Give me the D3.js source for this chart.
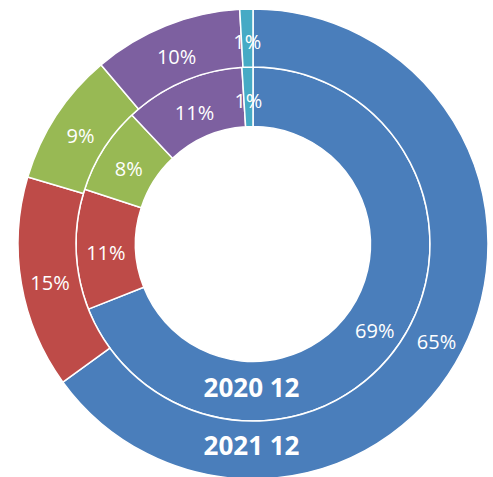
<!DOCTYPE html>
<html>
<head>
<meta charset="utf-8">
<script src="https://cdn.jsdelivr.net/npm/d3@7/dist/d3.min.js"></script>
<style>
  html, body { margin: 0; padding: 0; background: #ffffff; }
  svg { display: block; }
</style>
</head>
<body>
<svg id="chart" width="493" height="477"></svg>
<script>
// ---- data ----
const categories = ["Category 1", "Category 2", "Category 3", "Category 4", "Category 5"];
const seriesNames = ["2020 12", "2021 12"];
const values2020 = [69, 11, 8, 11, 1];
const values2021 = [65, 14.6, 9.2, 10.3, 0.9];
const colors = ["#4a7ebb", "#be4b48", "#98b954", "#7d60a0", "#46aac5"];

// ---- layout ----
const W = 493, H = 477;
const cx = 253, cy = 244;
const rHole = 117.5, rMid = 177, rOuter = 235;

const svg = d3.select("#chart");
const g = svg.append("g").attr("transform", `translate(${cx},${cy})`);

const color = d3.scaleOrdinal().domain(categories).range(colors);
const pie = d3.pie().sort(null).value(d => d.value).startAngle(0).endAngle(2 * Math.PI);

const rings = [
  { name: seriesNames[0], values: values2020, r0: rHole, r1: rMid },
  { name: seriesNames[1], values: values2021, r0: rMid, r1: rOuter }
];

rings.forEach(ring => {
  const data = categories.map((c, i) => ({ cat: c, value: ring.values[i] }));
  const total = d3.sum(ring.values);
  const arcs = pie(data);
  const arc = d3.arc().innerRadius(ring.r0).outerRadius(ring.r1);

  const rg = g.append("g");
  rg.selectAll("path")
    .data(arcs)
    .join("path")
    .attr("d", arc)
    .attr("fill", d => color(d.data.cat))
    .attr("stroke", "#ffffff")
    .attr("stroke-width", 1.5)
    .attr("stroke-linejoin", "round");

  rg.selectAll("text.pct")
    .data(arcs)
    .join("text")
    .attr("class", "pct")
    .attr("x", d => arc.centroid(d)[0])
    .attr("y", d => arc.centroid(d)[1] + 4)
    .attr("dy", "0.36em")
    .attr("text-anchor", "middle")
    .attr("fill", "#ffffff")
    .attr("font-family", "'Open Sans', 'Noto Sans', sans-serif")
    .attr("font-size", 20)
    .text(d => Math.round(d.data.value / total * 100) + "%");

  // series name at bottom of ring
  const rMidRing = (ring.r0 + ring.r1) / 2;
  rg.append("text")
    .attr("x", -1.5)
    .attr("y", rMidRing - 4)
    .attr("dy", "0.36em")
    .attr("text-anchor", "middle")
    .attr("fill", "#ffffff")
    .attr("font-family", "'Open Sans', 'Noto Sans', sans-serif")
    .attr("font-weight", "bold")
    .attr("font-size", 26)
    .text(ring.name);
});
</script>
</body>
</html>
